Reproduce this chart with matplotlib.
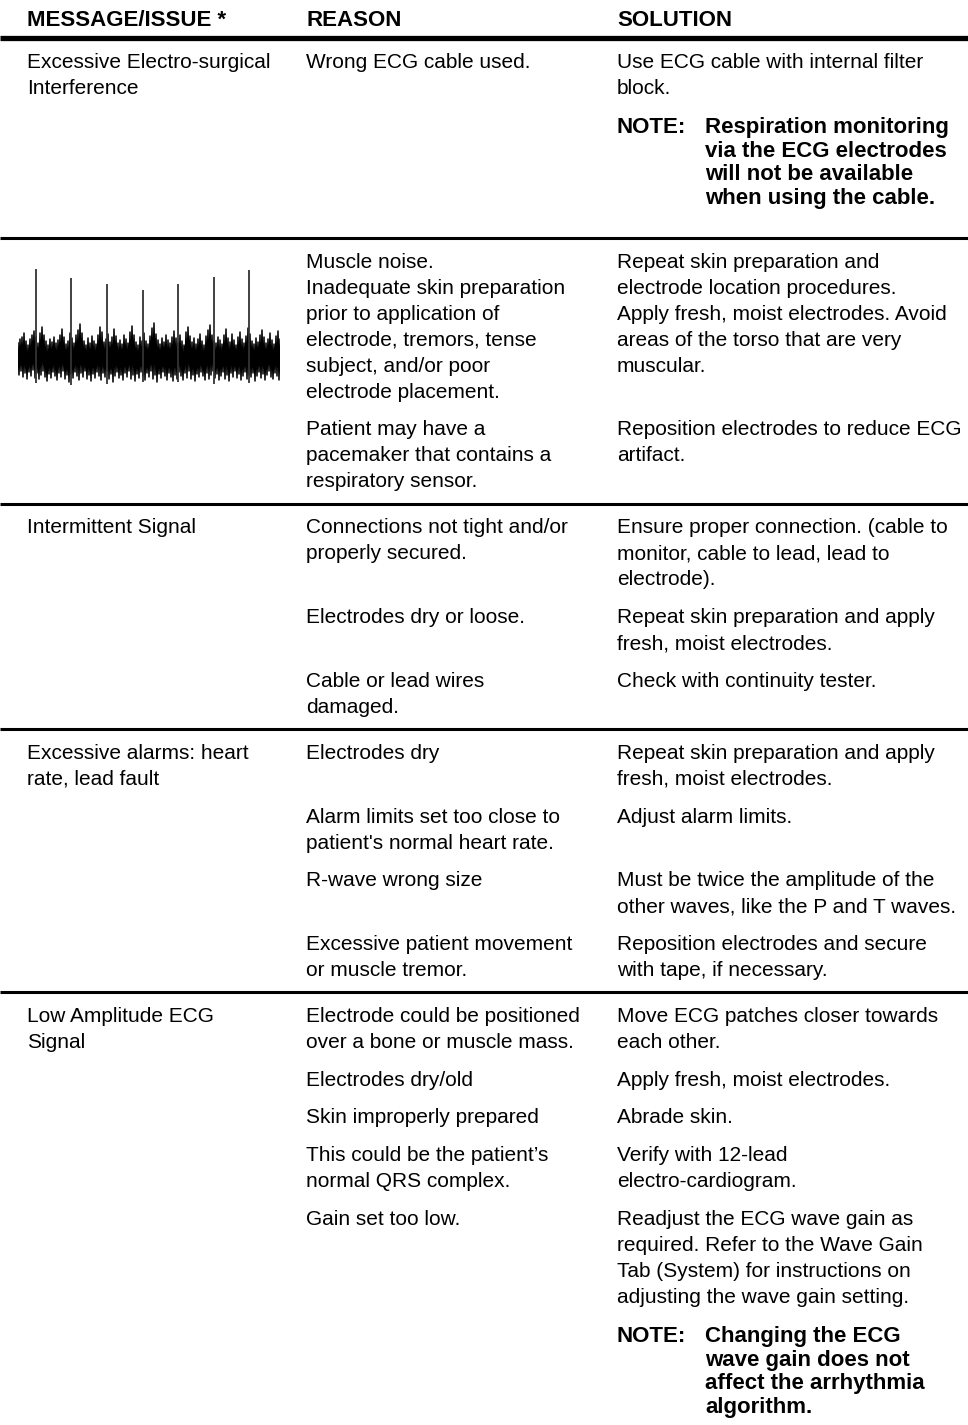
import numpy as np
import matplotlib
matplotlib.use("Agg")
import matplotlib.pyplot as plt

#--------data begin--------
headers = ["MESSAGE/ISSUE *", "REASON", "SOLUTION"]

messages = [
  "Excessive Electro-surgical\nInterference",
  None,  # ECG trace drawn instead
  "Intermittent Signal",
  "Excessive alarms: heart\nrate, lead fault",
  "Low Amplitude ECG\nSignal",
]

reasons = [
  ["Wrong ECG cable used."],
  ["Muscle noise.\nInadequate skin preparation\nprior to application of\nelectrode, tremors, tense\nsubject, and/or poor\nelectrode placement.",
   "Patient may have a\npacemaker that contains a\nrespiratory sensor."],
  ["Connections not tight and/or\nproperly secured.",
   "Electrodes dry or loose.",
   "Cable or lead wires\ndamaged."],
  ["Electrodes dry",
   "Alarm limits set too close to\npatient's normal heart rate.",
   "R-wave wrong size",
   "Excessive patient movement\nor muscle tremor."],
  ["Electrode could be positioned\nover a bone or muscle mass.",
   "Electrodes dry/old",
   "Skin improperly prepared",
   "This could be the patient\u2019s\nnormal QRS complex.",
   "Gain set too low."],
]

solutions = [
  ["Use ECG cable with internal filter\nblock."],
  ["Repeat skin preparation and\nelectrode location procedures.\nApply fresh, moist electrodes. Avoid\nareas of the torso that are very\nmuscular.",
   "Reposition electrodes to reduce ECG\nartifact."],
  ["Ensure proper connection. (cable to\nmonitor, cable to lead, lead to\nelectrode).",
   "Repeat skin preparation and apply\nfresh, moist electrodes.",
   "Check with continuity tester."],
  ["Repeat skin preparation and apply\nfresh, moist electrodes.",
   "Adjust alarm limits.",
   "Must be twice the amplitude of the\nother waves, like the P and T waves.",
   "Reposition electrodes and secure\nwith tape, if necessary."],
  ["Move ECG patches closer towards\neach other.",
   "Apply fresh, moist electrodes.",
   "Abrade skin.",
   "Verify with 12-lead\nelectro-cardiogram.",
   "Readjust the ECG wave gain as\nrequired. Refer to the Wave Gain\nTab (System) for instructions on\nadjusting the wave gain setting."],
]

# (row, entry) -> note text
notes = {
  (0, 0): "Respiration monitoring\nvia the ECG electrodes\nwill not be available\nwhen using the cable.",
  (4, 4): "Changing the ECG\nwave gain does not\naffect the arrhythmia\nalgorithm.",
}

# muscle-noise ECG trace (px above / below baseline)
ecg_upper = [14, 18, 20, 24, 16, 12, 18, 22, 26,
  20, 14, 24, 30, 22, 16, 12, 18, 15, 20, 14, 17, 22, 28, 20, 13, 16, 24,
  19, 14, 22, 27, 33, 24, 16, 12, 19, 14, 21, 16, 13, 22, 30, 25, 15, 18,
  23, 15, 20, 28, 21, 14, 17, 13, 22, 18, 14, 25, 31, 22, 15, 12, 20, 16,
  24, 16, 13, 21, 29, 34, 23, 17, 13, 19, 15, 22, 17, 14, 20, 26, 19, 14,
  22, 16, 12, 25, 30, 21, 15, 19, 13, 18, 23, 16, 12, 21, 27, 32, 22, 16,
  14, 20, 17, 13, 22, 28, 19, 15, 23, 17, 12, 20, 25, 18, 14, 21, 29, 23,
  16, 13, 19, 15, 22, 27, 20, 14, 18, 24, 17, 13, 21, 26, 18]
ecg_lower = [18, 14, 20, 16, 22, 15, 19, 13, 21,
  16, 22, 18, 14, 20, 24, 17, 21, 15, 19, 23, 16, 20, 14, 22, 18, 25, 17,
  21, 15, 19, 23, 16, 20, 14, 22, 18, 24, 17, 21, 15, 19, 23, 16, 20, 14,
  22, 17, 25, 19, 15, 21, 18, 23, 16, 20, 14, 22, 18, 24, 17, 21, 15, 19,
  23, 16, 20, 14, 22, 18, 25, 17, 21, 15, 19, 23, 16, 20, 24, 18, 22, 15,
  19, 23, 16, 21, 14, 22, 18, 24, 17, 20, 15, 19, 23, 16, 22, 18, 14, 21,
  17, 23, 19, 15, 22, 18, 24, 16, 20, 14, 21, 17, 23, 19, 15, 22, 18, 20,
  16, 24, 19, 15, 21, 17, 23, 18, 14, 20, 22, 16, 19, 23, 17]
spike_x = [18, 53, 89, 125, 160, 196, 231]
spike_top = [88, 79, 73, 67, 73, 80, 87]
spike_bottom = [-26, -28, -27, -25, -25, -27, -26]
#--------data end--------

W, H = 968, 1425
col_x = (27, 306, 617)
note_indent = 705
pitch, gap, note_pitch = 26.0, 11.7, 23.5
body_font = ["Liberation Sans", "DejaVu Sans"]
body_size = 15
note_size = 16

fig = plt.figure(figsize=(W / 100, H / 100), dpi=100)
ax = fig.add_axes([0, 0, 1, 1])
ax.set_xlim(0, W)
ax.set_ylim(H, 0)
ax.axis("off")


def put_lines(x, y0, text, step=pitch, **kw):
  lines = text.split("\n")
  for i, line in enumerate(lines):
    ax.text(x, y0 + i * step, line, va="center", ha="left", color="black", **kw)
  return len(lines)


# header
for x, h in zip(col_x, headers):
  ax.text(x, 20, h, va="center", ha="left", fontsize=16, fontweight="bold",
          family=body_font)
ax.hlines(38, 0, W, color="black", lw=3.8)

y = 62.0
for r in range(len(messages)):
  top = y
  if messages[r] is not None:
    put_lines(col_x[0], top, messages[r], family=body_font, fontsize=body_size)
  last = y
  for j, (rs, ss) in enumerate(zip(reasons[r], solutions[r])):
    nr = put_lines(col_x[1], y, rs, family=body_font, fontsize=body_size)
    ns = put_lines(col_x[2], y, ss, family=body_font, fontsize=body_size)
    last = y + (max(nr, ns) - 1) * pitch
    if (r, j) in notes:
      ny = last + pitch + gap + 2
      ax.text(col_x[2], ny, "NOTE:", va="center", ha="left", fontsize=note_size,
              fontweight="bold", family=body_font)
      nn = put_lines(note_indent, ny, notes[(r, j)], step=note_pitch,
                     fontsize=note_size, fontweight="bold", family=body_font)
      last = ny + (nn - 1) * note_pitch + 18
    y = last + pitch + gap
  if r < len(messages) - 1:
    sep = last + 22
    ax.hlines(sep, 0, W, color="black", lw=2.2)
    y = sep + 24

# ECG trace in its own axes
ex0, ey_top, ew, eh = 18, 262, 262, 130
eax = fig.add_axes([ex0 / W, 1 - (ey_top + eh) / H, ew / W, eh / H])
xs = np.arange(len(ecg_upper)) * 2.0
trace_x = np.column_stack([xs, xs + 1.0]).ravel()
trace_y = np.column_stack([np.array(ecg_upper), -np.array(ecg_lower)]).ravel()
eax.plot(trace_x, trace_y, color="black", lw=1.1)
eax.vlines(spike_x, spike_bottom, spike_top, color="#333333", lw=1.3)
eax.set_xlim(0, ew)
eax.set_ylim(-35, 95)
eax.axis("off")

fig.savefig("out.png", dpi=100)
